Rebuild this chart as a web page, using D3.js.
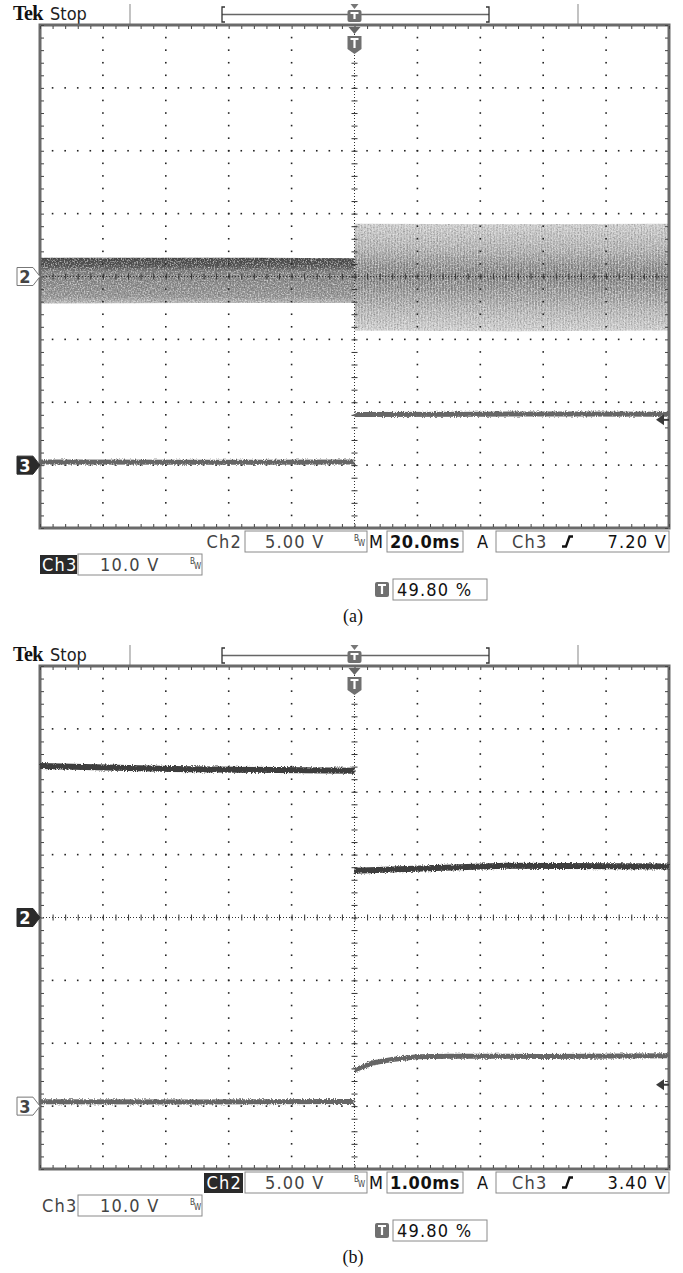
<!DOCTYPE html>
<html>
<head>
<meta charset="utf-8">
<title>Scope captures (a) and (b)</title>
<script src="https://cdn.jsdelivr.net/npm/d3@7"></script>
<style>
  body { margin: 0; background: #fff; }
  svg { display: block; }
  .ro { font-family: "Liberation Sans Narrow", "DejaVu Sans Condensed", "DejaVu Sans", sans-serif; font-stretch: condensed; }
  .serif { font-family: "Liberation Serif", "DejaVu Serif", serif; }
</style>
</head>
<body>
<script>
// screen grid
var xDivs = 10, yDivs = 8, subDivs = 5;

// (a) 20.0 ms/div -- Ch2 5 V/div (band = ripple envelope [t, hi, lo]), Ch3 10 V/div
var ch2PreA  = [[-100, 1.5, -2.15], [-50, 1.5, -2.1], [0, 1.45, -2.1]];
var ch2PostA = [[0, 4.2, -4.3], [50, 4.15, -4.35], [100, 4.2, -4.3]];
var ch3PreA  = [[-100, 0.5], [-50, 0.45], [0, 0.5]];
var ch3PostA = [[0, 8.05], [40, 8.1], [70, 8.15], [100, 8.1]];
var readoutA = ["5.00 V", "20.0ms", "7.20 V", "10.0 V", "49.80 %"];

// (b) 1.00 ms/div
var ch2PreB  = [[-5, 12.05], [-2.9, 11.8], [0, 11.67]];
var ch2PostB = [[0, 3.72], [1.3, 3.93], [2.4, 4.12], [5, 4.05]];
var ch3PreB  = [[-5, 0.7], [-2.5, 0.65], [0, 0.75]];
var ch3PostB = [[0, 5.75], [0.3, 6.9], [0.6, 7.4], [1.0, 7.85], [1.5, 7.95], [3, 7.9], [5, 8.0]];
var readoutB = ["5.00 V", "1.00ms", "3.40 V", "10.0 V", "49.80 %"];

// per-panel settings: time/div, V/div, ground offsets (div), trigger level (V)
var tDiv      = [20, 1];
var ch2VDiv   = [5, 5];
var ch3VDiv   = [10, 10];
var ch2Offset = [0, 0];
var ch3Offset = [-3, -3];
var trigLevel = [7.2, 3.4];
var ch2Active = [false, true];
var captions  = ["(a)", "(b)"];

var W = 683, H = 1273;
var X0 = 40, X1 = 669, Y0 = 25, Y1 = 528;
var panelTop = [0, 641];

var svg = d3.select("body").append("svg").attr("width", W).attr("height", H);
var defs = svg.append("defs");

// textures
var jag = defs.append("filter").attr("id", "jag")
    .attr("filterUnits", "userSpaceOnUse").attr("x", 0).attr("y", 0).attr("width", W).attr("height", H);
jag.append("feTurbulence").attr("type", "fractalNoise").attr("baseFrequency", "0.9 0.7")
    .attr("numOctaves", 2).attr("seed", 7).attr("result", "t");
jag.append("feDisplacementMap").attr("in", "SourceGraphic").attr("in2", "t").attr("scale", 4)
    .attr("xChannelSelector", "R").attr("yChannelSelector", "G");

var grain = defs.append("filter").attr("id", "grain")
    .attr("filterUnits", "userSpaceOnUse").attr("x", 0).attr("y", 0).attr("width", W).attr("height", H);
grain.append("feTurbulence").attr("type", "fractalNoise").attr("baseFrequency", "0.7")
    .attr("numOctaves", 2).attr("seed", 3).attr("result", "n");
grain.append("feColorMatrix").attr("in", "n").attr("type", "matrix")
    .attr("values", "0 0 0 0 0  0 0 0 0 0  0 0 0 0 0  1.3 0 0 0 -0.66").attr("result", "dk");
grain.append("feColorMatrix").attr("in", "n").attr("type", "matrix")
    .attr("values", "0 0 0 0 1  0 0 0 0 1  0 0 0 0 1  -1.5 0 0 0 0.74").attr("result", "lt");
grain.append("feComposite").attr("in", "dk").attr("in2", "SourceGraphic").attr("operator", "in").attr("result", "dk2");
grain.append("feComposite").attr("in", "lt").attr("in2", "SourceGraphic").attr("operator", "in").attr("result", "lt2");
var fm = grain.append("feMerge");
fm.append("feMergeNode").attr("in", "SourceGraphic");
fm.append("feMergeNode").attr("in", "dk2");
fm.append("feMergeNode").attr("in", "lt2");

var gPre = defs.append("linearGradient").attr("id", "bandPre").attr("x1", 0).attr("x2", 0).attr("y1", 0).attr("y2", 1);
[[0, "#4c4c4c"], [0.18, "#585858"], [0.3, "#848484"], [0.85, "#999"], [1, "#bdbdbd"]].forEach(function (s) {
  gPre.append("stop").attr("offset", s[0]).attr("stop-color", s[1]);
});
var gPost = defs.append("linearGradient").attr("id", "bandPost").attr("x1", 0).attr("x2", 0).attr("y1", 0).attr("y2", 1);
[[0, "#cbcbcb"], [0.25, "#adadad"], [0.4, "#8c8c8c"], [0.5, "#808080"], [0.62, "#939393"], [0.8, "#b2b2b2"], [1, "#cdcdcd"]].forEach(function (s) {
  gPost.append("stop").attr("offset", s[0]).attr("stop-color", s[1]);
});
var stripes = defs.append("pattern").attr("id", "stripes").attr("patternUnits", "userSpaceOnUse")
    .attr("width", 3).attr("height", 40);
stripes.append("rect").attr("width", 1).attr("height", 40).attr("fill", "#fff").attr("opacity", 0.25);

function badge(g, cx, y, h, pointed) {
  var w = 7;
  var p = pointed
    ? "M" + (cx - w) + "," + y + "H" + (cx + w) + "V" + (y + h - 5) + "L" + cx + "," + (y + h) + "L" + (cx - w) + "," + (y + h - 5) + "Z"
    : "M" + (cx - w + 2) + "," + y + "H" + (cx + w - 2) + "Q" + (cx + w) + "," + y + " " + (cx + w) + "," + (y + 2) +
      "V" + (y + h - 2) + "Q" + (cx + w) + "," + (y + h) + " " + (cx + w - 2) + "," + (y + h) +
      "H" + (cx - w + 2) + "Q" + (cx - w) + "," + (y + h) + " " + (cx - w) + "," + (y + h - 2) +
      "V" + (y + 2) + "Q" + (cx - w) + "," + y + " " + (cx - w + 2) + "," + y + "Z";
  g.append("path").attr("d", p).attr("fill", "#707070");
  g.append("path").attr("d", "M" + (cx - 4) + "," + (y + 3) + "H" + (cx + 4) + "M" + cx + "," + (y + 3) + "V" + (y + h - (pointed ? 6 : 3)))
    .attr("stroke", "#fff").attr("stroke-width", 2.2).attr("fill", "none");
}

function chMarker(g, y, label, active) {
  g.append("path")
    .attr("d", "M17," + (y - 9) + "H33L40," + y + "L33," + (y + 9) + "H17Z")
    .attr("fill", active ? "#2a2a2a" : "#fff")
    .attr("stroke", active ? "#2a2a2a" : "#777").attr("stroke-width", 1);
  g.append("text").attr("class", "ro").attr("x", 25).attr("y", y + 6.5).attr("text-anchor", "middle")
    .attr("font-size", 18).attr("font-weight", "bold")
    .attr("fill", active ? "#fff" : "#444").text(label);
}

function drawPanel(k, pre2, post2, pre3, post3, readout, isBand) {
  var g = svg.append("g").attr("transform", "translate(0," + panelTop[k] + ")");
  var x = d3.scaleLinear().domain([-xDivs / 2 * tDiv[k], xDivs / 2 * tDiv[k]]).range([X0, X1]);
  var dv = d3.scaleLinear().domain([-yDivs / 2, yDivs / 2]).range([Y1, Y0]);
  var y2 = function (v) { return dv(v / ch2VDiv[k] + ch2Offset[k]); };
  var y3 = function (v) { return dv(v / ch3VDiv[k] + ch3Offset[k]); };
  var xc = x(0), yc = dv(0);

  // header
  g.append("text").attr("class", "serif").attr("x", 13).attr("y", 20)
    .attr("font-weight", "bold").attr("font-size", 20).attr("letter-spacing", -0.6).attr("fill", "#111").text("Tek");
  g.append("text").attr("class", "ro").attr("x", 50).attr("y", 20).attr("font-size", 18).attr("fill", "#222").text("Stop");
  [130, 578].forEach(function (sx) {
    g.append("line").attr("x1", sx).attr("x2", sx).attr("y1", 4).attr("y2", Y0)
      .attr("stroke", "#9a9a9a").attr("stroke-width", 1.2);
  });
  g.append("line").attr("x1", 222).attr("x2", 489).attr("y1", 14.5).attr("y2", 14.5).attr("stroke", "#666").attr("stroke-width", 1.3);
  g.append("path").attr("d", "M225,7H222V22H225M486,7H489V22H486").attr("fill", "none").attr("stroke", "#333").attr("stroke-width", 1.3);
  g.append("path").attr("d", "M" + (xc - 4) + ",4H" + (xc + 4) + "L" + xc + ",9Z").attr("fill", "#777");
  badge(g, xc, 10, 12, false);

  // ch2 ripple bands
  if (isBand) {
    var band = d3.area().x(function (d) { return x(d[0]); })
      .y0(function (d) { return y2(d[2]); }).y1(function (d) { return y2(d[1]); });
    g.append("path").datum(pre2).attr("d", band).attr("fill", "url(#bandPre)").attr("filter", "url(#grain)");
    g.append("path").datum(post2).attr("d", band).attr("fill", "url(#bandPost)").attr("filter", "url(#grain)");
    g.append("path").datum(post2).attr("d", band).attr("fill", "url(#stripes)");
  }

  // graticule: dotted major lines
  var dots = [];
  d3.range(1, xDivs).forEach(function (i) {
    if (i === xDivs / 2) return;
    d3.range(0, yDivs * subDivs + 1).forEach(function (j) { dots.push([X0 + i * (X1 - X0) / xDivs, dv(j / subDivs - yDivs / 2)]); });
  });
  d3.range(1, yDivs).forEach(function (j) {
    if (j === yDivs / 2) return;
    d3.range(0, xDivs * subDivs + 1).forEach(function (i) { dots.push([X0 + i * (X1 - X0) / (xDivs * subDivs), dv(j - yDivs / 2)]); });
  });
  g.append("g").selectAll("rect").data(dots).enter().append("rect")
    .attr("x", function (d) { return d[0] - 0.8; }).attr("y", function (d) { return d[1] - 0.8; })
    .attr("width", 1.6).attr("height", 1.6).attr("fill", "#222");

  // centre cross with sub-division ticks
  g.append("line").attr("x1", X0).attr("x2", X1).attr("y1", yc).attr("y2", yc)
    .attr("stroke", "#333").attr("stroke-width", 1).attr("stroke-dasharray", "1 2");
  g.append("line").attr("x1", xc).attr("x2", xc).attr("y1", Y0).attr("y2", Y1)
    .attr("stroke", "#333").attr("stroke-width", 1).attr("stroke-dasharray", "1 2");
  var xSub = d3.range(-xDivs / 2, xDivs / 2 + 0.001, 1 / subDivs).map(function (d) { return d * tDiv[k]; });
  var ySub = d3.range(-yDivs / 2, yDivs / 2 + 0.001, 1 / subDivs);
  g.append("g").attr("transform", "translate(0," + (yc - 3) + ")")
    .call(d3.axisBottom(x).tickValues(xSub).tickSize(6).tickFormat(""))
    .call(function (a) { a.select(".domain").remove(); a.selectAll("line").attr("stroke", "#333"); });
  g.append("g").attr("transform", "translate(" + (xc - 3) + ",0)")
    .call(d3.axisRight(dv).tickValues(ySub).tickSize(6).tickFormat(""))
    .call(function (a) { a.select(".domain").remove(); a.selectAll("line").attr("stroke", "#333"); });

  // border with inward ticks
  g.append("rect").attr("x", X0).attr("y", Y0).attr("width", X1 - X0).attr("height", Y1 - Y0)
    .attr("fill", "none").attr("stroke", "#6a6a6a").attr("stroke-width", 3);
  [[d3.axisBottom(x), "translate(0," + (Y0 + 1) + ")", xSub],
   [d3.axisTop(x), "translate(0," + (Y1 - 1) + ")", xSub],
   [d3.axisRight(dv), "translate(" + (X0 + 1) + ",0)", ySub],
   [d3.axisLeft(dv), "translate(" + (X1 - 1) + ",0)", ySub]].forEach(function (s) {
    g.append("g").attr("transform", s[1])
      .call(s[0].tickValues(s[2]).tickSize(3).tickFormat(""))
      .call(function (a) { a.select(".domain").remove(); a.selectAll("line").attr("stroke", "#444"); });
  });

  // trigger position marker under the top border
  g.append("path").attr("d", "M" + (xc - 6) + "," + (Y0 + 2) + "H" + (xc + 6) + "L" + xc + "," + (Y0 + 9) + "Z").attr("fill", "#666");
  badge(g, xc, Y0 + 11, 18, true);

  // line traces
  var line2 = d3.line().x(function (d) { return x(d[0]); }).y(function (d) { return y2(d[1]); });
  var line3 = d3.line().x(function (d) { return x(d[0]); }).y(function (d) { return y3(d[1]); });
  if (!isBand) {
    [pre2, post2].forEach(function (s) {
      g.append("path").datum(s).attr("d", line2).attr("fill", "none")
        .attr("stroke", "#3c3c3c").attr("stroke-width", 6).attr("filter", "url(#jag)");
    });
  }
  [pre3, post3].forEach(function (s) {
    g.append("path").datum(s).attr("d", line3).attr("fill", "none")
      .attr("stroke", "#666").attr("stroke-width", 5).attr("filter", "url(#jag)");
  });

  // channel ground markers and trigger level arrow
  chMarker(g, y2(0), "2", ch2Active[k]);
  chMarker(g, y3(0), "3", !ch2Active[k]);
  var ty = y3(trigLevel[k]);
  g.append("path").attr("d", "M656," + ty + "L664," + (ty - 5.5) + "V" + (ty + 5.5) + "Z").attr("fill", "#3a3a3a");
  g.append("line").attr("x1", 662).attr("x2", X1).attr("y1", ty).attr("y2", ty).attr("stroke", "#3a3a3a").attr("stroke-width", 2);

  // readouts
  var grey = "#444", dark = "#111";
  function box(x0, y0, w, h) {
    g.append("rect").attr("x", x0).attr("y", y0).attr("width", w).attr("height", h)
      .attr("fill", "#fff").attr("stroke", "#8a8a8a").attr("stroke-width", 1);
  }
  function txt(x0, y0, s, col, anchor, size) {
    return g.append("text").attr("class", "ro").attr("x", x0).attr("y", y0).attr("font-size", size || 18)
      .attr("letter-spacing", 1.2).attr("text-anchor", anchor || "start").attr("fill", col).text(s);
  }
  function bw(x0, y0) {
    txt(x0, y0 - 3, "B", grey, "start", 8).attr("letter-spacing", 0);
    txt(x0 + 4, y0 + 2, "W", grey, "start", 8).attr("letter-spacing", 0);
  }
  if (ch2Active[k]) g.append("rect").attr("x", 204).attr("y", 532).attr("width", 39).attr("height", 20).attr("fill", "#2a2a2a");
  txt(242, 548, "Ch2", ch2Active[k] ? "#fff" : grey, "end");
  box(245, 531, 122, 21);
  txt(265, 548, readout[0], grey);
  bw(354, 544);
  txt(369, 548, "M", dark).attr("letter-spacing", 0);
  box(387, 531, 76, 21);
  txt(390, 548, readout[1], dark).attr("letter-spacing", 0.6).attr("font-weight", "bold");
  txt(477, 548, "A", dark);
  box(496, 531, 173, 21);
  txt(512, 548, "Ch3", grey);
  g.append("path").attr("d", "M562,546.5H566L569.5,536.5H573").attr("fill", "none").attr("stroke", dark).attr("stroke-width", 2.3);
  txt(667, 548, readout[2], dark, "end");

  if (!ch2Active[k]) g.append("rect").attr("x", 40).attr("y", 555).attr("width", 37).attr("height", 19).attr("fill", "#2a2a2a");
  txt(42, 571, "Ch3", ch2Active[k] ? grey : "#fff");
  box(78, 554, 124, 21);
  txt(100, 571, readout[3], grey);
  bw(190, 567);

  badge(g, 382, 582, 15, false);
  box(393, 579, 94, 21);
  txt(397, 596, readout[4], dark);

  g.append("text").attr("class", "serif").attr("x", 353).attr("y", 622).attr("text-anchor", "middle")
    .attr("font-size", 18).attr("fill", "#111").text(captions[k]);
}

drawPanel(0, ch2PreA, ch2PostA, ch3PreA, ch3PostA, readoutA, true);
drawPanel(1, ch2PreB, ch2PostB, ch3PreB, ch3PostB, readoutB, false);
</script>
</body>
</html>
